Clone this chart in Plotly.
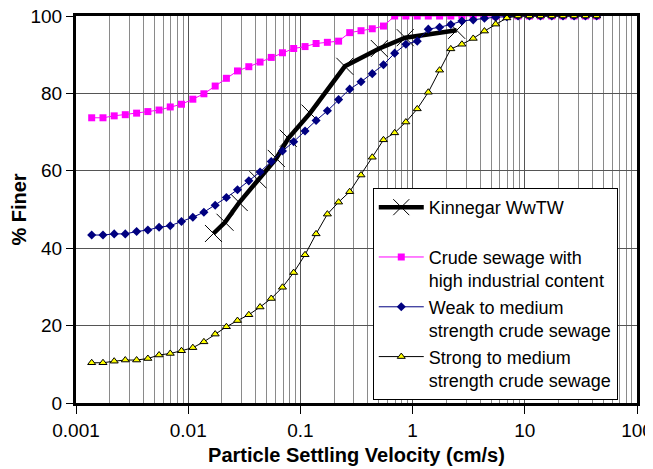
import plotly.graph_objects as go

# ---- data ----
x_grid = [0.00138, 0.00174, 0.00219, 0.00275, 0.00347, 0.00437, 0.00550, 0.00692, 0.00871,
          0.0110, 0.0138, 0.0174, 0.0219, 0.0275, 0.0347, 0.0437, 0.0550, 0.0692, 0.0871,
          0.110, 0.138, 0.174, 0.219, 0.275, 0.347, 0.437, 0.550, 0.692, 0.871,
          1.10, 1.38, 1.74, 2.19, 2.75, 3.47, 4.37, 5.50, 6.92, 8.71,
          11.0, 13.8, 17.4, 21.9, 27.5, 34.7, 43.7]

crude_industrial = [73.7, 73.7, 74.2, 74.5, 74.9, 75.3, 75.7, 76.5, 77.2, 78.5,
                    79.9, 81.9, 83.9, 85.8, 86.9, 88.1, 89.3, 90.5, 91.6, 92.1,
                    92.9, 93.2, 93.5, 95.7, 96.2, 96.7, 97.4, 100, 100, 100,
                    100, 100, 100, 100, 100, 100, 100, 100, 100, 100,
                    100, 100, 100, 100, 100, 100]

weak_medium = [43.4, 43.4, 43.7, 43.7, 44.3, 44.7, 45.4, 45.8, 46.9, 48.0,
               49.3, 51.1, 53.1, 55.1, 57.4, 59.7, 62.4, 65.1, 67.5, 70.3,
               73.0, 75.5, 78.4, 81.1, 83.0, 85.1, 87.4, 90.4, 92.7, 93.5,
               96.6, 97.1, 97.8, 98.7, 99.0, 99.4, 99.7, 99.8, 100, 100,
               100, 100, 100, 100, 100, 100]

strong_medium = [10.4, 10.4, 10.8, 11.1, 11.1, 11.5, 12.4, 12.8, 13.5, 14.3,
                 15.8, 17.8, 19.7, 21.3, 22.8, 24.8, 27.0, 29.9, 33.7, 38.3,
                 43.7, 48.8, 51.9, 54.6, 58.9, 63.5, 68.0, 69.8, 72.6, 76.0,
                 80.3, 86.0, 91.5, 92.7, 94.2, 96.1, 97.9, 99.5, 100, 100,
                 100, 100, 100, 100, 100, 100]

kinnegar_x = [0.0168, 0.0213, 0.0285, 0.0418, 0.061, 0.078, 0.122, 0.249, 0.505, 0.86, 2.47]
kinnegar_y = [43.8, 46.7, 51.8, 57.7, 63.2, 68.4, 74.9, 87.0, 91.6, 94.4, 96.3]

x_tickvals = [0.001, 0.01, 0.1, 1, 10, 100]
x_ticktext = ["0.001", "0.01", "0.1", "1", "10", "100"]
y_tickvals = [0, 20, 40, 60, 80, 100]

FONT = "Liberation Sans, Arial, sans-serif"

fig = go.Figure()

fig.add_trace(go.Scatter(
    x=kinnegar_x, y=kinnegar_y, mode="lines+markers",
    name="Kinnegar WwTW<br> ",
    line=dict(color="black", width=4.5),
    marker=dict(symbol="x-thin", size=17, color="black", line=dict(color="black", width=1)),
))
fig.add_trace(go.Scatter(
    x=x_grid, y=crude_industrial, mode="lines+markers",
    name="Crude sewage with<br>high industrial content",
    line=dict(color="#ff00ff", width=1),
    marker=dict(symbol="square", size=7, color="#ff00ff"),
))
fig.add_trace(go.Scatter(
    x=x_grid, y=weak_medium, mode="lines+markers",
    name="Weak to medium<br>strength crude sewage",
    line=dict(color="#000080", width=1),
    marker=dict(symbol="diamond", size=7, color="#000080"),
))
fig.add_trace(go.Scatter(
    x=x_grid, y=strong_medium, mode="lines+markers",
    name="Strong to medium<br>strength crude sewage",
    line=dict(color="black", width=1),
    marker=dict(symbol="triangle-up", size=7, color="#ffff00", line=dict(color="black", width=1)),
))

# The page body adds an 8px margin, so the figure is 8px smaller and shifted accordingly.
fig.update_layout(
    width=645, height=461,
    margin=dict(l=68, r=16, t=8, b=66, autoexpand=False),
    paper_bgcolor="white", plot_bgcolor="white",
    font=dict(family=FONT, size=19, color="black"),
    showlegend=True,
    legend=dict(
        x=0.529, y=0.5556, xanchor="left", yanchor="top",
        bordercolor="black", borderwidth=1, bgcolor="white",
        font=dict(family=FONT, size=18, color="black"),
        valign="top", itemwidth=45, tracegroupgap=0,
    ),
)

fig.update_xaxes(
    type="log", range=[-3, 2], automargin=False, ticklabeloverflow="allow",
    tickvals=x_tickvals, ticktext=x_ticktext,
    ticks="outside", ticklen=8, tickcolor="black", tickwidth=1,
    showline=True, linecolor="black", linewidth=3, mirror=True,
    showgrid=True, gridcolor="#555555", gridwidth=1,
    minor=dict(dtick="D1", showgrid=True, gridcolor="#8a8a8a", gridwidth=1, ticks=""),
    zeroline=False,
    title=dict(text="<b>Particle Settling Velocity (cm/s)</b>", font=dict(size=20), standoff=9),
)
fig.update_yaxes(
    range=[0, 100], tickvals=y_tickvals, automargin=False, ticklabeloverflow="allow",
    ticks="outside", ticklen=7, tickcolor="black", tickwidth=1,
    showline=True, linecolor="black", linewidth=3, mirror=True,
    showgrid=True, gridcolor="#555555", gridwidth=1,
    zeroline=False,
    title=dict(text="<b>% Finer</b>", font=dict(size=20), standoff=0),
)

fig.write_html("out.html")
